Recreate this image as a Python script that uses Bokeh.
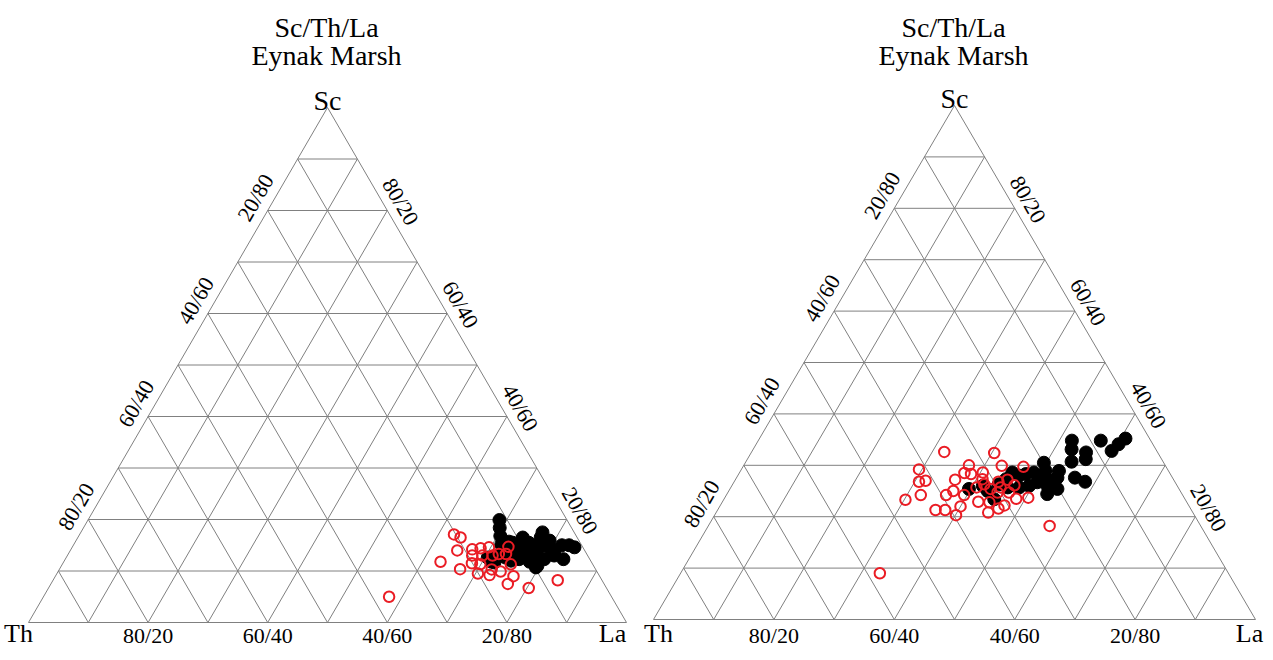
import math
from bokeh.plotting import figure
from bokeh.models import Range1d
from bokeh.core.properties import value
from bokeh.embed import file_html
from bokeh.resources import INLINE

# ---------------- data ----------------
TITLE_LINES = ["Sc/Th/La", "Eynak Marsh"]
TICKS = [20, 40, 60, 80]
LEFT_EDGE_LABELS = ["80/20", "60/40", "40/60", "20/80"]   # Th/Sc at Sc = 20..80
RIGHT_EDGE_LABELS = ["20/80", "40/60", "60/40", "80/20"]  # Sc/La at Sc = 20..80
BASE_LABELS = ["80/20", "60/40", "40/60", "20/80"]        # Th/La at La = 20..80

# panel 1 (left)
p1_black_sc = [19.9, 18.4, 16.8, 15.1, 13.7, 12.8, 12.6, 11.8, 15.7, 14.2, 13.0, 16.5, 14.9, 13.3,
               11.8, 14.1, 11.0, 16.5, 14.9, 15.9, 14.1, 13.0, 15.0, 12.3, 15.0, 14.6, 12.0, 12.3,
               13.0, 12.3, 14.6, 10.7, 13.9, 14.9, 17.5, 15.5, 11.65, 14.0, 12.6, 15.5]
p1_black_la = [68.8, 69.6, 70.5, 71.5, 72.5, 71.9, 70.5, 71.5, 72.5, 74.1, 75.1, 74.4, 75.4, 76.7,
               77.9, 77.3, 79.6, 77.4, 78.5, 79.2, 80.3, 81.4, 81.7, 83.3, 82.9, 84.0, 74.7, 75.9,
               78.6, 80.1, 72.5, 79.5, 81.0, 76.8, 77.2, 73.2, 72.1, 75.1, 73.5, 75.9]
p1_red_sc = [17.1, 16.5, 14.0, 11.8, 14.2, 14.4, 14.6, 14.7, 13.0, 13.0, 13.3, 13.3, 11.5, 11.3,
             10.35, 9.5, 10.3, 9.2, 9.9, 11.3, 9.0, 7.5, 6.7, 8.2, 5.0, 13.0]
p1_red_la = [62.6, 64.0, 64.7, 63.0, 67.1, 68.4, 69.7, 72.9, 67.7, 71.1, 72.0, 73.2, 68.4, 69.9,
             67.0, 70.4, 72.3, 72.5, 74.0, 75.0, 76.6, 76.4, 80.3, 84.4, 57.8, 69.4]

# panel 2 (right)
p2_black_sc = [34.8, 33.1, 32.5, 31.2, 34.8, 32.8, 34.1, 35.2, 30.7, 30.5, 28.9, 28.9, 27.6, 28.6,
               28.3, 28.0, 28.6, 26.0, 25.7, 26.7, 26.0, 25.4, 24.4, 27.6, 26.8, 25.0, 23.4, 25.4,
               26.0, 27.3, 27.6, 26.3, 25.7, 27.0]
p2_black_la = [52.1, 52.9, 55.6, 56.2, 56.9, 59.7, 60.2, 60.8, 54.1, 49.6, 50.7, 52.9, 53.3, 48.9,
               47.7, 46.7, 45.3, 49.4, 47.9, 50.4, 52.4, 54.4, 53.2, 56.2, 58.3, 43.0, 44.9, 39.7,
               41.7, 44.9, 50.5, 44.2, 46.0, 52.8]
p2_red_sc = [32.6, 32.4, 29.2, 30.0, 29.9, 29.7, 26.8, 27.0, 28.5, 28.3, 28.6, 27.3, 27.2, 25.0,
             24.2, 23.3, 24.2, 24.2, 25.7, 26.8, 27.2, 26.1, 25.7, 25.4, 24.7, 24.7, 23.5, 23.7,
             22.9, 22.8, 20.8, 21.6, 22.2, 22.0, 20.3, 21.3, 21.3, 18.2, 9.0, 26.3]
p2_red_la = [32.0, 40.4, 29.5, 37.4, 42.9, 46.6, 30.7, 31.7, 37.4, 38.6, 40.4, 41.0, 36.5, 37.3,
             32.3, 30.2, 36.5, 39.5, 40.8, 43.9, 45.2, 46.9, 44.8, 43.3, 44.8, 46.7, 48.5, 50.4,
             42.5, 44.4, 45.2, 46.5, 47.2, 40.0, 40.1, 37.8, 36.2, 56.7, 33.1, 41.8]

# ---------------- layout (page pixel coordinates) ----------------
PANELS = [
    dict(th=(36, 630), la=(634, 630), sc=(335, 115), th_dx=-10, la_dx=-14,
         black=(p1_black_sc, p1_black_la), red=(p1_red_sc, p1_red_la)),
    dict(th=(661, 627), la=(1263, 627), sc=(962, 113), th_dx=5, la_dx=-6,
         black=(p2_black_sc, p2_black_la), red=(p2_red_sc, p2_red_la)),
]

FONT = value("Liberation Serif")
GRID_COLOR = "#808080"
RED = "#ea1c24"
X0, Y0 = 8, 8            # page margin
W, H = 1265, 644

p = figure(width=W, height=H, x_range=Range1d(X0, X0 + W), y_range=Range1d(Y0 + H, Y0),
           output_backend="svg", toolbar_location=None,
           x_axis_location=None, y_axis_location=None, min_border=0)
p.outline_line_color = None
p.grid.visible = False
p.background_fill_color = "white"


def to_xy(g, sc, la):
    th = 100.0 - sc - la
    x = (th * g["th"][0] + la * g["la"][0] + sc * g["sc"][0]) / 100.0
    y = (th * g["th"][1] + la * g["la"][1] + sc * g["sc"][1]) / 100.0
    return x, y


def unit(a, b):
    dx, dy = b[0] - a[0], b[1] - a[1]
    L = math.hypot(dx, dy)
    return dx / L, dy / L


for g in PANELS:
    # grid
    xs, ys = [], []
    for k in range(10, 100, 10):
        for (s0, l0), (s1, l1) in [((k, 0), (k, 100 - k)),
                                   ((0, k), (100 - k, k)),
                                   ((0, 100 - k), (100 - k, 0))]:
            a = to_xy(g, s0, l0)
            b = to_xy(g, s1, l1)
            xs.append([a[0], b[0]])
            ys.append([a[1], b[1]])
    tri = [to_xy(g, 0, 0), to_xy(g, 0, 100), to_xy(g, 100, 0), to_xy(g, 0, 0)]
    xs.append([t[0] for t in tri])
    ys.append([t[1] for t in tri])
    p.multi_line(xs, ys, line_color=GRID_COLOR, line_width=1)

    # data
    bx, by = zip(*[to_xy(g, s, l) for s, l in zip(*g["black"])])
    p.scatter(list(bx), list(by), size=13, fill_color="black", line_color="black")
    rx, ry = zip(*[to_xy(g, s, l) for s, l in zip(*g["red"])])
    p.scatter(list(rx), list(ry), size=10.5, fill_color=None, line_color=RED, line_width=2)

    # left edge labels
    ux, uy = unit(g["th"], g["sc"])
    nx, ny = uy, -ux
    lx, ly = [], []
    for s in TICKS:
        ax, ay = to_xy(g, s, 0)
        lx.append(ax + 17 * nx + 5 * ux)
        ly.append(ay + 17 * ny + 5 * uy)
    p.text(lx, ly, text=LEFT_EDGE_LABELS, angle=math.radians(60), text_font=FONT,
           text_font_size="22px", text_align="center", text_baseline="middle", text_color="black")

    # right edge labels
    ux, uy = unit(g["la"], g["sc"])
    nx, ny = -uy, ux
    lx, ly = [], []
    for s in TICKS:
        ax, ay = to_xy(g, s, 100 - s)
        lx.append(ax + 16 * nx + 1 * ux)
        ly.append(ay + 16 * ny + 1 * uy)
    p.text(lx, ly, text=RIGHT_EDGE_LABELS, angle=math.radians(-60), text_font=FONT,
           text_font_size="22px", text_align="center", text_baseline="middle", text_color="black")

    # base labels
    lx, ly = [], []
    for l in TICKS:
        ax, ay = to_xy(g, 0, l)
        lx.append(ax)
        ly.append(643)
    p.text(lx, ly, text=BASE_LABELS, text_font=FONT, text_font_size="22px",
           text_align="center", text_baseline="alphabetic", text_color="black")

    # corner labels
    p.text([g["sc"][0]], [g["sc"][1] - 7], text=["Sc"], text_font=FONT,
           text_font_size="28px", text_align="center", text_baseline="alphabetic",
           text_color="black")
    p.text([g["th"][0] + g["th_dx"], g["la"][0] + g["la_dx"]], [641, 641],
           text=["Th", "La"], text_font=FONT,
           text_font_size="26px", text_align="center", text_baseline="alphabetic",
           text_color="black")

    # title
    p.text([g["sc"][0] - 1, g["sc"][0] - 1], [35, 63], text=TITLE_LINES, text_font=FONT,
           text_font_size="28px", text_align="center", text_baseline="alphabetic",
           text_color="black")

open("out.html", "w").write(file_html(p, INLINE))
